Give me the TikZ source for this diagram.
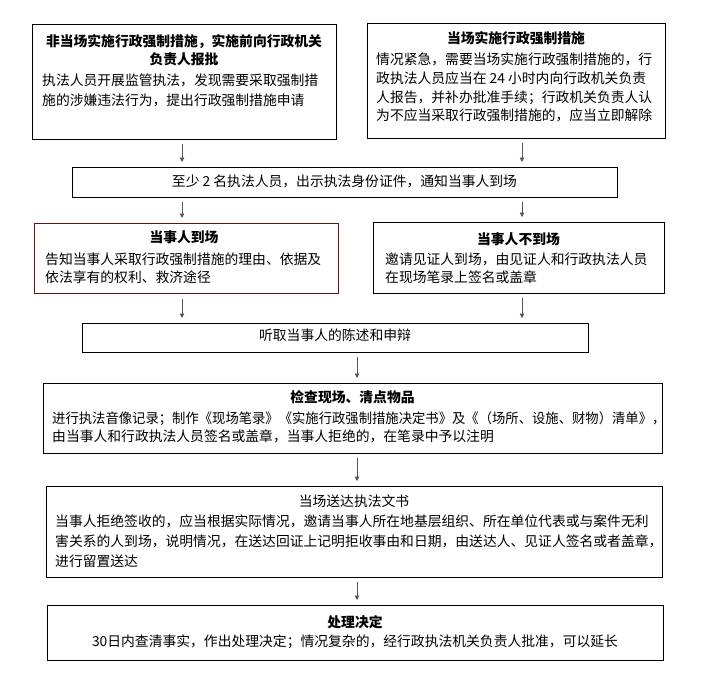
\documentclass[tikz,border=0pt]{standalone}
\usepackage{fontspec}
\setmainfont{Noto Sans CJK SC}
\usetikzlibrary{arrows.meta}
\definecolor{brownline}{RGB}{88,24,24}
\definecolor{arrowgray}{RGB}{85,85,85}
\begin{document}
\begin{tikzpicture}[x=1pt,y=-1pt,
  box/.style={draw=black,line width=0.9pt,anchor=north west,inner sep=0pt},
  txt/.style={inner sep=0pt,text height=0.88em,text depth=0.12em,font=\fontsize{13.8}{18}\selectfont},
  lft/.style={txt,anchor=west},
  ctr/.style={txt,anchor=center},
  ttl/.style={txt,anchor=center,font=\fontsize{13.8}{18}\selectfont\bfseries},
  arr/.style={draw=arrowgray,line width=0.9pt,-{Triangle[length=4.5pt,width=4.5pt]},shorten <=4.5pt,shorten >=5pt}]
\useasboundingbox (0,0) rectangle (708,681);
% columns for connectors
\coordinate (colL) at (182,0);
\coordinate (colR) at (522,0);
\coordinate (colM) at (357,0);
% boxes
\node[box,minimum width=304pt,minimum height=115pt] (b1) at (32,24) {};
\node[box,minimum width=298pt,minimum height=115pt] (b2) at (367,23) {};
\node[box,minimum width=545pt,minimum height=30pt] (b3) at (72,167) {};
\node[box,draw=brownline,line width=1pt,minimum width=304pt,minimum height=70pt] (b4) at (34,223) {};
\node[box,minimum width=291pt,minimum height=71pt] (b5) at (373,222) {};
\node[box,minimum width=506pt,minimum height=29pt] (b6) at (82,323) {};
\node[box,minimum width=619pt,minimum height=70pt] (b7) at (43,383) {};
\node[box,minimum width=616pt,minimum height=91pt] (b8) at (46,486) {};
\node[box,minimum width=616pt,minimum height=55pt] (b9) at (47,605) {};
% texts box 1
\node[ttl] (t1a) at (184,43) {非当场实施行政强制措施，实施前向行政机关};
\node[ttl] (t1b) at (184,61) {负责人报批};
\node[lft] (t1c) at (42,82) {执法人员开展监管执法，发现需要采取强制措};
\node[lft] (t1d) at (42,102) {施的涉嫌违法行为，提出行政强制措施申请};
% box 2
\node[ttl] (t2a) at (516,40) {当场实施行政强制措施};
\node[lft] (t2b) at (376,61) {情况紧急，需要当场实施行政强制措施的，行};
\node[lft] (t2c) at (376,80) {政执法人员应当在 24 小时内向行政机关负责};
\node[lft] (t2d) at (376,99) {人报告，并补办批准手续；行政机关负责人认};
\node[lft] (t2e) at (376,117) {为不应当采取行政强制措施的，应当立即解除};
% box 3
\node[ctr] (t3) at (344.5,183) {至少 2 名执法人员，出示执法身份证件，通知当事人到场};
% box 4
\node[ttl] (t4a) at (184,239) {当事人到场};
\node[lft] (t4b) at (45,261) {告知当事人采取行政强制措施的理由、依据及};
\node[lft] (t4c) at (45,279) {依法享有的权利、救济途径};
% box 5
\node[ttl] (t5a) at (518.5,241) {当事人不到场};
\node[lft] (t5b) at (385,261) {邀请见证人到场，由见证人和行政执法人员};
\node[lft] (t5c) at (385,279) {在现场笔录上签名或盖章};
% box 6
\node[ctr] (t6) at (335,337) {听取当事人的陈述和申辩};
% box 7
\node[ttl] (t7a) at (352.5,399) {检查现场、清点物品};
\node[lft] (t7b) at (52,420) {\scalebox{0.966}[1]{进行执法音像记录；制作《现场笔录》《实施行政强制措施决定书》及《（场所、设施、财物）清单》，}};
\node[lft] (t7c) at (52,438) {由当事人和行政执法人员签名或盖章，当事人拒绝的，在笔录中予以注明};
% box 8
\node[ctr] (t8a) at (354,503) {当场送达执法文书};
\node[lft] (t8b) at (55,523) {当事人拒绝签收的，应当根据实际情况，邀请当事人所在地基层组织、所在单位代表或与案件无利};
\node[lft] (t8c) at (55,543) {害关系的人到场，说明情况，在送达回证上记明拒收事由和日期，由送达人、见证人签名或者盖章，};
\node[lft] (t8d) at (55,563) {进行留置送达};
% box 9
\node[ttl] (t9a) at (355,624) {处理决定};
\node[ctr] (t9b) at (355,643) {30日内查清事实，作出处理决定；情况复杂的，经行政执法机关负责人批准，可以延长};
% connectors
\draw[arr] (b1.south -| colL) -- (b3.north -| colL);
\draw[arr] (b2.south -| colR) -- (b3.north -| colR);
\draw[arr] (b3.south -| colL) -- (b4.north -| colL);
\draw[arr] (b3.south -| colR) -- (b5.north -| colR);
\draw[arr] (b4.south -| colL) -- (b6.north -| colL);
\draw[arr] (b5.south -| colR) -- (b6.north -| colR);
\draw[arr] (b6.south -| colM) -- (b7.north -| colM);
\draw[arr] (b7.south -| colM) -- (b8.north -| colM);
\draw[arr] (b8.south -| colM) -- (b9.north -| colM);
\end{tikzpicture}
\end{document}
